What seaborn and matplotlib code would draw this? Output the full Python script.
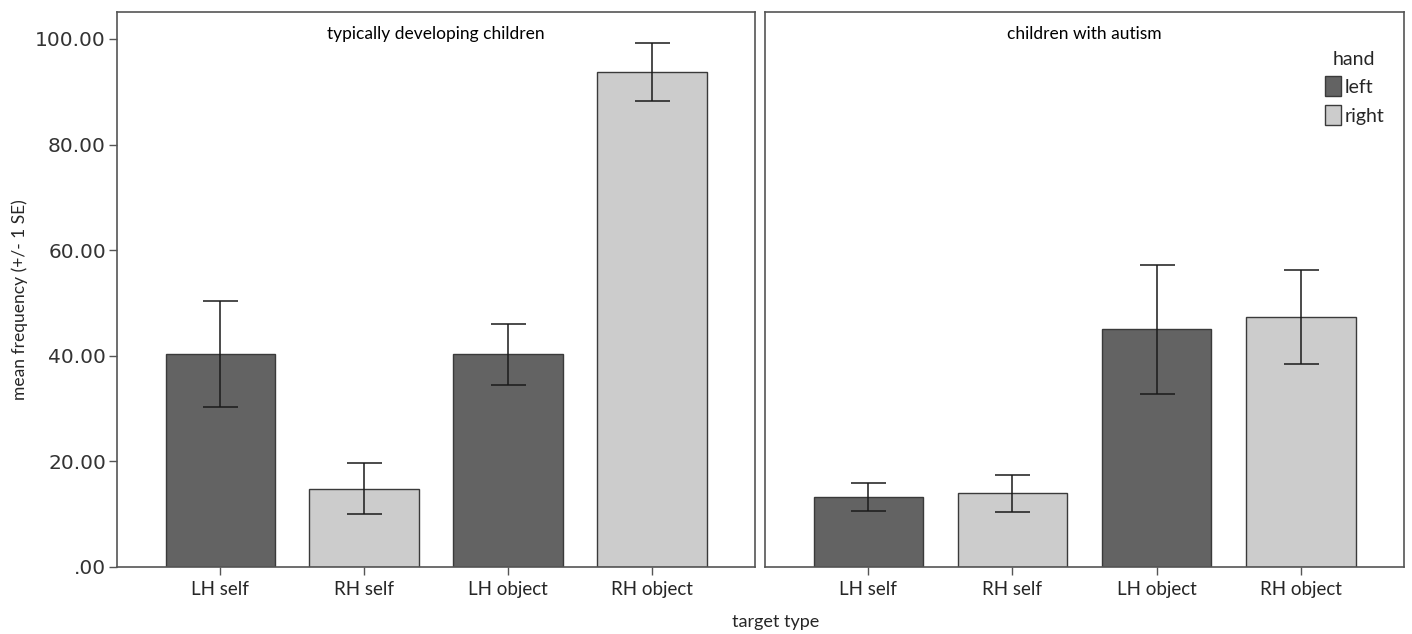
import pandas as pd
import matplotlib
matplotlib.use('Agg')
import matplotlib.pyplot as plt
from matplotlib.patches import Patch
import seaborn as sns

# data
categories = ['LH self', 'RH self', 'LH object', 'RH object']
hands = ['left', 'right', 'left', 'right']
panels = ['typically developing children', 'children with autism']

td_mean = [40.3, 14.8, 40.3, 93.8]
td_low = [30.3, 10.0, 34.5, 88.3]
td_high = [50.3, 19.6, 46.1, 99.3]

asd_mean = [13.3, 14.1, 45.0, 47.3]
asd_low = [10.6, 10.5, 32.8, 38.5]
asd_high = [15.9, 17.5, 57.2, 56.2]

y_ticks = [0, 20, 40, 60, 80, 100]
y_ticklabels = ['.00', '20.00', '40.00', '60.00', '80.00', '100.00']

palette = {'left': '#636363', 'right': '#cccccc'}
label_font = 'Lato'

sns.set_theme(style='white')
plt.rcParams['font.family'] = ['Lato', 'DejaVu Sans']

fig = plt.figure(figsize=(14.12, 6.34), dpi=100)
ax_l = fig.add_axes([0.0829, 0.1057, 0.4518, 0.8754])
ax_r = fig.add_axes([0.5418, 0.1057, 0.4525, 0.8754])

panel_data = [
    (ax_l, panels[0], td_mean, td_low, td_high),
    (ax_r, panels[1], asd_mean, asd_low, asd_high),
]

for ax, title, means, lows, highs in panel_data:
    df = pd.DataFrame({'target': categories, 'value': means, 'hand': hands})
    sns.barplot(data=df, x='target', y='value', hue='hand', palette=palette,
                order=categories, dodge=False, width=0.76, errorbar=None,
                edgecolor='#3a3a3a', linewidth=1.0, legend=False, ax=ax)
    yerr = [[m - lo for m, lo in zip(means, lows)],
            [hi - m for m, hi in zip(means, highs)]]
    ax.errorbar(x=list(range(len(categories))), y=means, yerr=yerr, fmt='none',
                ecolor='#1a1a1a', elinewidth=1.1, capsize=12.6, capthick=1.1)
    ax.set_xlim(-0.717, 3.716)
    ax.set_ylim(0, 105.1)
    ax.set_xlabel('')
    ax.set_ylabel('')
    ax.text(0.5, 0.975, title, transform=ax.transAxes, ha='center', va='top',
            fontsize=12.5, family=label_font, color='black')
    for side in ['top', 'right', 'left', 'bottom']:
        ax.spines[side].set_color('#555555')
        ax.spines[side].set_linewidth(1.2)
    ax.tick_params(axis='x', bottom=True, length=6, width=1, color='#555555',
                   labelsize=13.5, pad=4)
    for lbl in ax.get_xticklabels():
        lbl.set_family(label_font)

ax_l.set_yticks(y_ticks)
ax_l.set_yticklabels(y_ticklabels, family='DejaVu Sans', fontsize=14.5, color='#333333')
ax_l.tick_params(axis='y', left=True, length=6, width=1, color='#555555', pad=2)
ax_r.set_yticks([])

fig.text(20 / 1412, 0.527, 'mean frequency (+/- 1 SE)', rotation=90, ha='center',
         va='center', fontsize=12.5, family=label_font)
fig.text(0.549, 0.019, 'target type', ha='center', va='center', fontsize=13,
         family=label_font)

handles = [Patch(facecolor=palette[h], edgecolor='#3a3a3a', linewidth=1.0) for h in ['left', 'right']]
leg = ax_r.legend(handles, ['left', 'right'], title='hand', loc='upper right',
                  bbox_to_anchor=(0.99, 0.955), frameon=False, fontsize=14,
                  title_fontsize=14, handlelength=0.85, handleheight=1.2,
                  handletextpad=0.15, labelspacing=0.45, borderpad=0.2)

fig.savefig('out.png', dpi=100)
